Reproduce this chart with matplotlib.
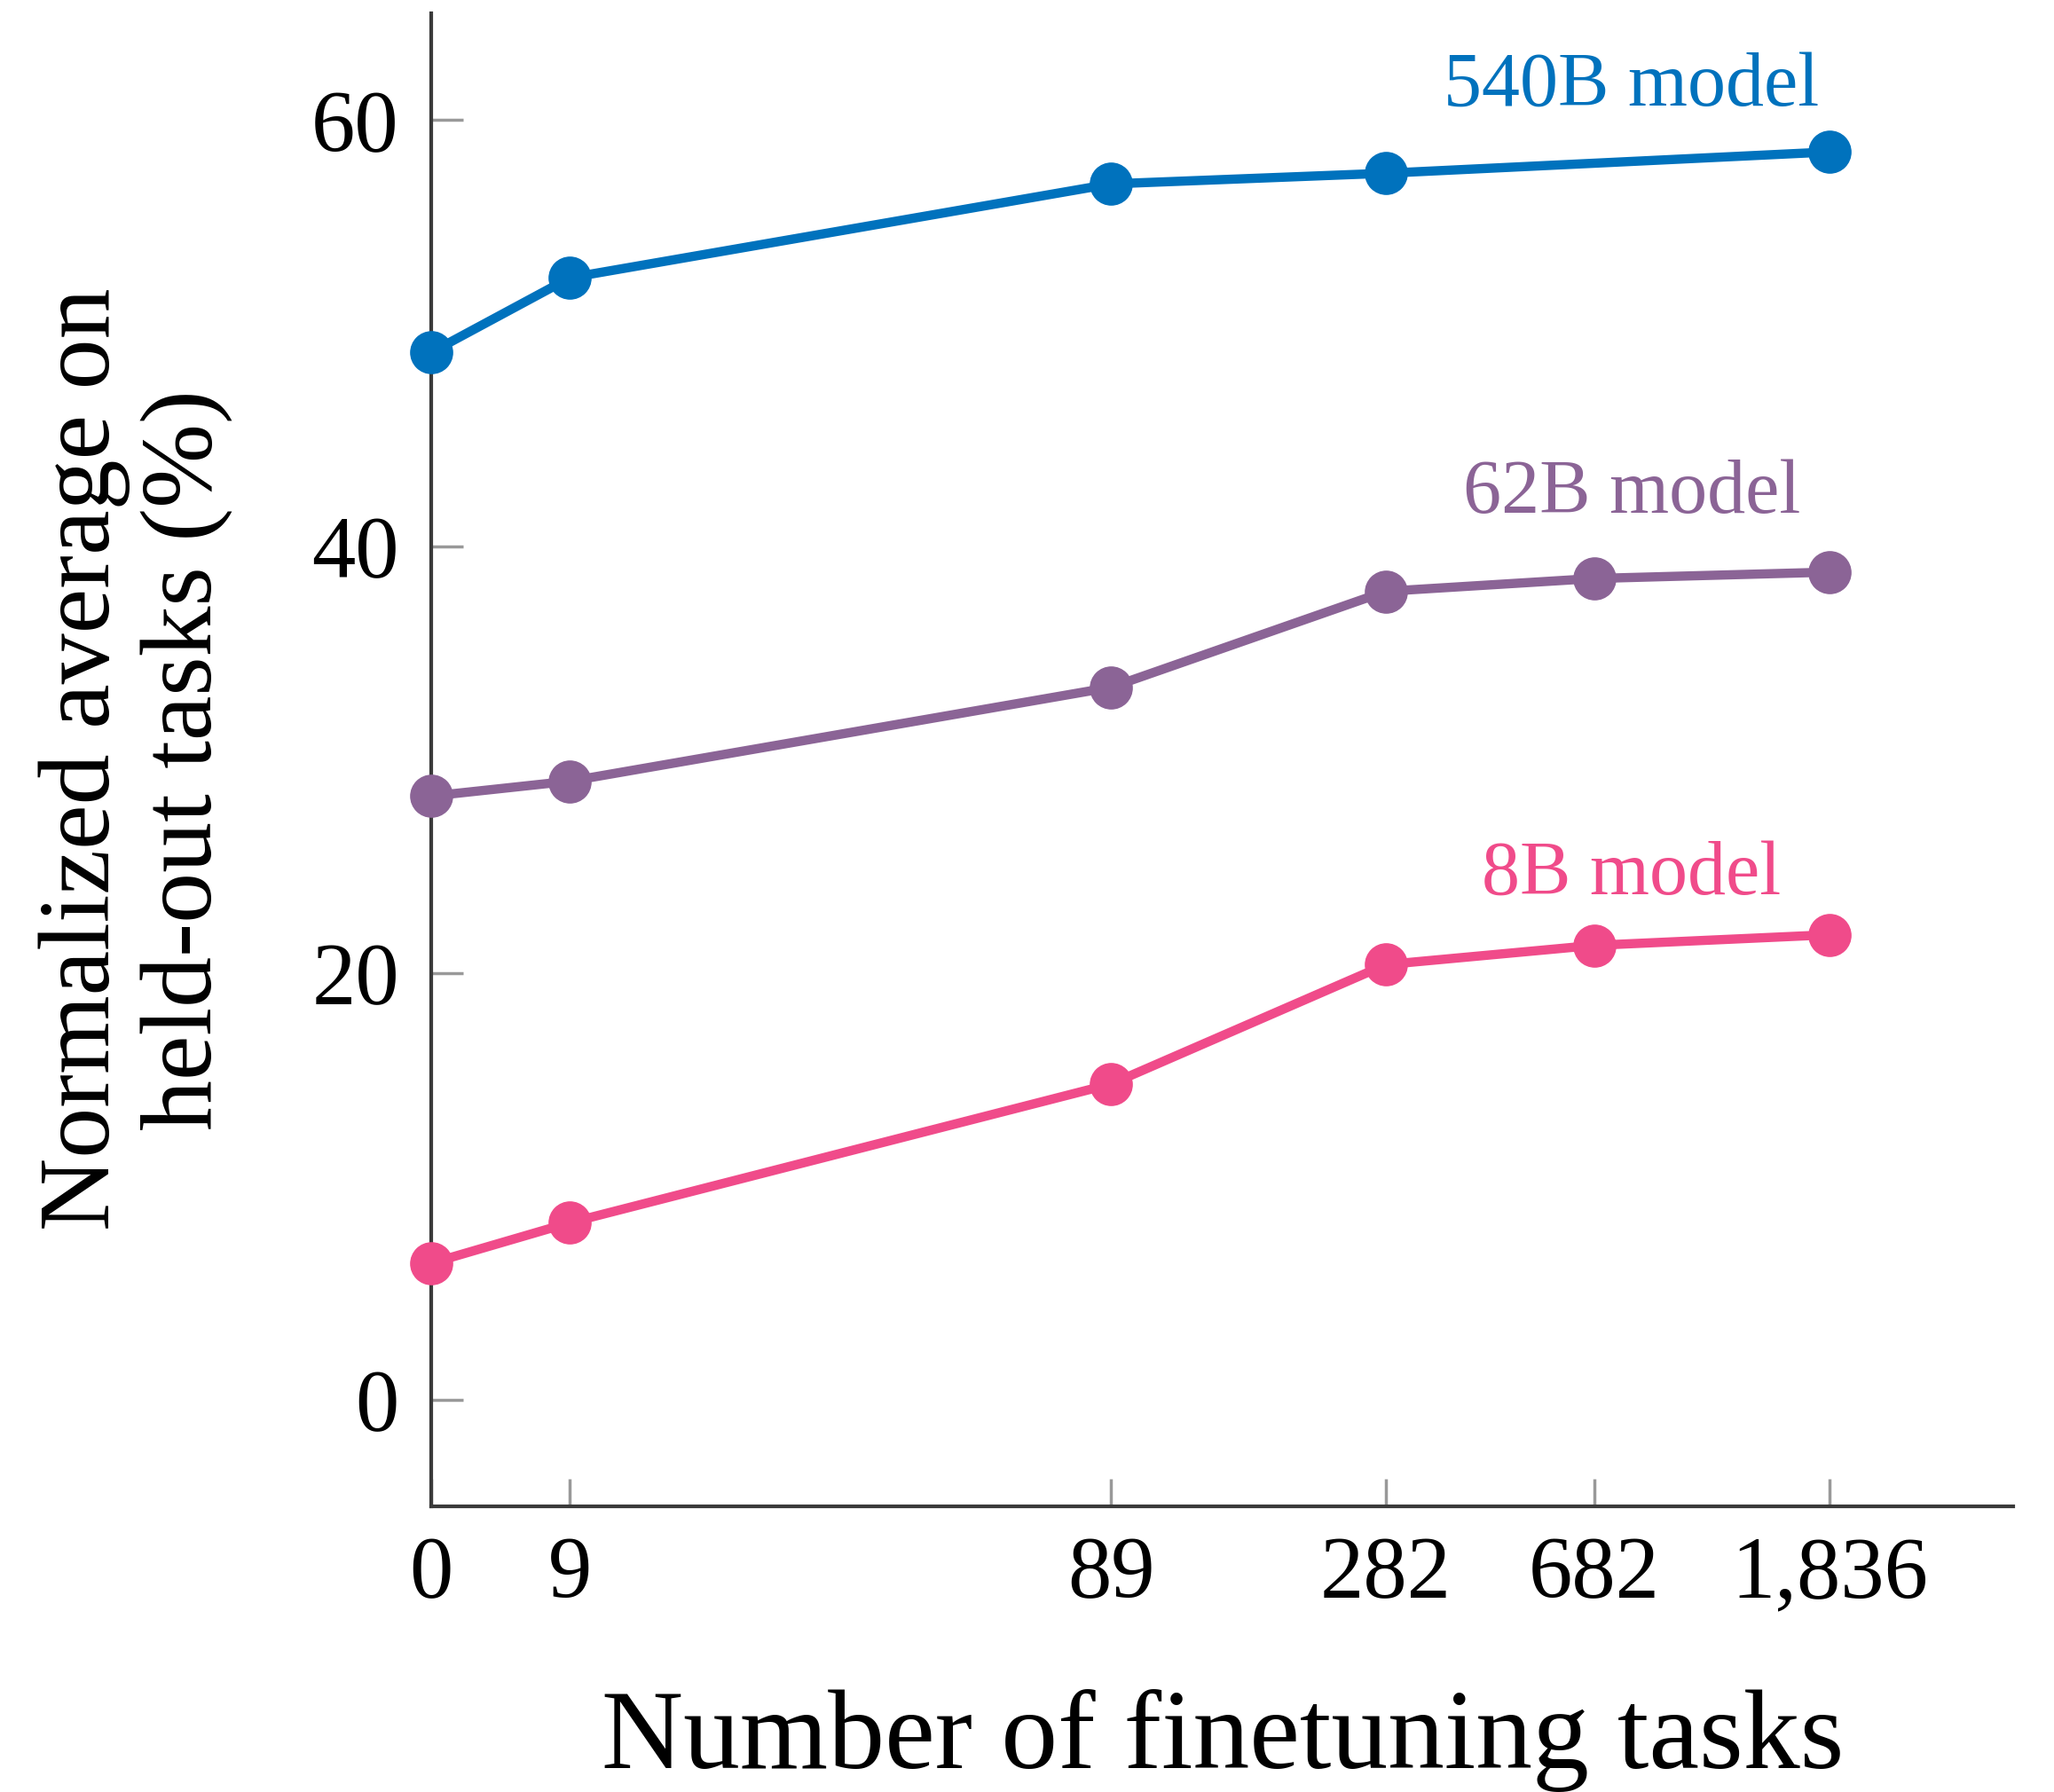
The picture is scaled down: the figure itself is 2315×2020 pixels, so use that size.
import matplotlib
matplotlib.use("Agg")
import matplotlib.pyplot as plt

# number of finetuning tasks, and where each one sits on the x axis
task_labels = ["0", "9", "89", "282", "682", "1,836"]
task_pos = [0, 1, 4.9, 6.88, 8.38, 10.08]

# normalized average on held-out tasks (%)
pos_540b = [0, 1, 4.9, 6.88, 10.08]   # no 682 point for 540B
acc_540b = [49.1, 52.6, 57.0, 57.5, 58.5]
acc_62b = [28.3, 29.0, 33.4, 37.9, 38.5, 38.8]
acc_8b = [6.4, 8.3, 14.8, 20.4, 21.3, 21.8]

c_540 = "#0072BD"
c_62 = "#8B6496"
c_8 = "#F04B8A"

plt.rcParams["font.family"] = ["Liberation Serif", "DejaVu Serif"]

fig = plt.figure(figsize=(23.15, 20.2), dpi=100)
ax = fig.add_axes([0.2099, 0.1594, 0.7702, 0.8332])

lw = 7.5
ms = 34
ax.plot(pos_540b, acc_540b, "-o", color=c_540, lw=lw, ms=ms, clip_on=False, zorder=3)
ax.plot(task_pos, acc_62b, "-o", color=c_62, lw=lw, ms=ms, clip_on=False, zorder=3)
ax.plot(task_pos, acc_8b, "-o", color=c_8, lw=lw, ms=ms, clip_on=False, zorder=3)

ax.text(8.65, 60.7, "540B model", color=c_540, fontsize=62, ha="center", va="baseline")
ax.text(8.65, 41.6, "62B model", color=c_62, fontsize=62, ha="center", va="baseline")
ax.text(8.65, 23.7, "8B model", color=c_8, fontsize=62, ha="center", va="baseline")

ax.set_xlim(0, 11.4)
ax.set_ylim(-5, 65)
ax.set_xticks(task_pos)
ax.set_xticklabels(task_labels)
ax.set_yticks([0, 20, 40, 60])

for side in ["top", "right"]:
    ax.spines[side].set_visible(False)
for side in ["left", "bottom"]:
    ax.spines[side].set_linewidth(3)
    ax.spines[side].set_color("#3a3a3a")

ax.tick_params(axis="both", direction="in", colors="#999999", width=2.5,
               labelcolor="black", labelsize=71)
ax.tick_params(axis="y", length=26, pad=26)
ax.tick_params(axis="x", length=22, pad=24)

fig.text(0.5953, 1 - 1993 / 2020, "Number of finetuning tasks", fontsize=92,
         ha="center", va="baseline")
fig.text(0.066, 0.5762, "Normalized average on\nheld-out tasks (%)", fontsize=82,
         rotation=90, ha="center", va="center", multialignment="center",
         linespacing=1.15)

fig.savefig("out.png", dpi=100)
